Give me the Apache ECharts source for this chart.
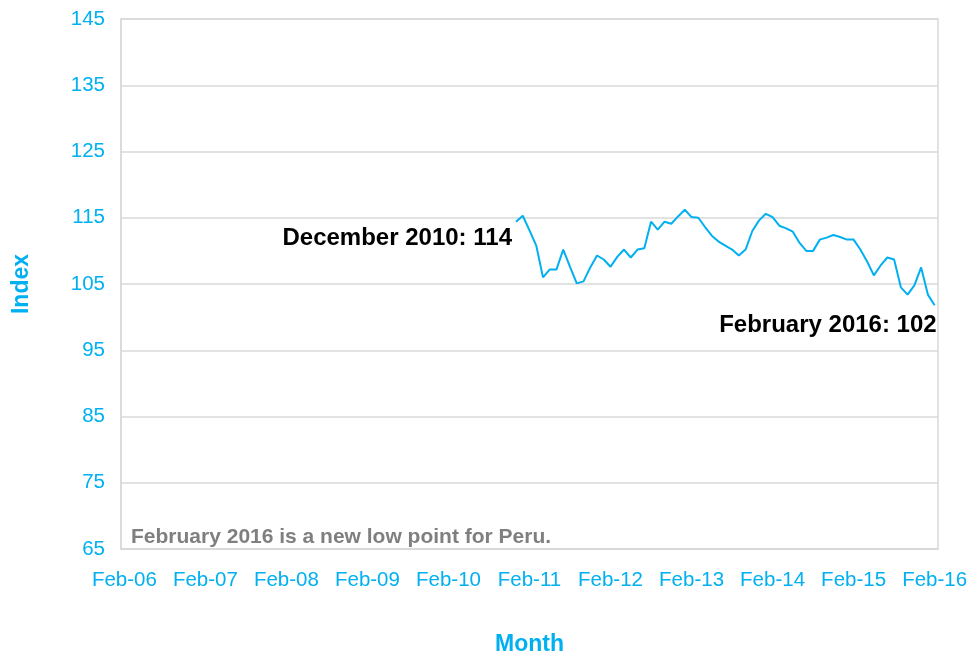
<!DOCTYPE html>
<html>
<head>
<meta charset="utf-8">
<script src="https://cdn.jsdelivr.net/npm/echarts@6/dist/echarts.min.js"></script>
<style>html,body{margin:0;padding:0;background:#fff}#c{width:974px;height:654px}</style>
</head>
<body>
<div id="c"></div>
<script>
var monthNames = ['Jan','Feb','Mar','Apr','May','Jun','Jul','Aug','Sep','Oct','Nov','Dec'];
var firstYear = 2006, firstMonth = 1, monthCount = 121; // Feb-06 .. Feb-16
var tickLabels = ['Feb-06','Feb-07','Feb-08','Feb-09','Feb-10','Feb-11','Feb-12','Feb-13','Feb-14','Feb-15','Feb-16'];
var seriesStart = 'Dec-10';
var indexValues = [
  114.4,
  115.3,113.1,110.8,106.0,107.2,107.2,110.2,107.6,105.1,105.4,107.5,109.3,
  108.7,107.6,109.1,110.2,109.0,110.2,110.4,114.4,113.2,114.4,114.1,115.2,
  116.2,115.1,115.0,113.6,112.3,111.4,110.8,110.2,109.3,110.2,113.0,114.6,
  115.6,115.1,113.8,113.4,112.9,111.2,110.0,110.0,111.7,112.0,112.4,112.1,
  111.7,111.7,110.2,108.4,106.3,107.8,109.0,108.7,104.5,103.4,104.8,107.5,
  103.4,101.8
];
var yTicks = [65,75,85,95,105,115,125,135,145];
var annotations = [
  {at:'Dec-10', value:114.4, text:'December 2010: 114'},
  {at:'Feb-16', value:101.8, text:'February 2016: 102'}
];
var noteText = 'February 2016 is a new low point for Peru.';

var categories = [];
for (var i = 0; i < monthCount; i++) {
  var m = (firstMonth + i) % 12;
  var y = firstYear + Math.floor((firstMonth + i) / 12);
  categories.push(monthNames[m] + '-' + String(y % 100).padStart(2, '0'));
}
var startIdx = categories.indexOf(seriesStart);
var seriesData = categories.map(function (c, i) {
  var k = i - startIdx;
  return (k >= 0 && k < indexValues.length) ? indexValues[k] : null;
});

var blue = '#00B0F0';
var font = '"Liberation Sans", Arial, sans-serif';
var chart = echarts.init(document.getElementById('c'), null, {renderer: 'canvas'});
chart.setOption({
  animation: false,
  grid: {left: 121, right: 36, top: 19, bottom: 105, show: true, borderColor: '#d9d9d9', borderWidth: 1.5,
         containLabel: false, outerBoundsMode: 'none'},
  xAxis: {
    type: 'category',
    data: categories,
    boundaryGap: true,
    name: 'Month',
    nameLocation: 'middle',
    nameGap: 84,
    nameTextStyle: {color: blue, fontSize: 23, fontWeight: 'bold', fontFamily: font},
    axisLine: {show: true, lineStyle: {color: '#d9d9d9', width: 1.5}},
    axisTick: {show: false},
    axisLabel: {
      color: blue, fontSize: 20.5, fontFamily: font, margin: 21,
      interval: function (idx, val) { return tickLabels.indexOf(val) >= 0; }
    },
    splitLine: {show: false}
  },
  yAxis: {
    type: 'value',
    min: yTicks[0], max: yTicks[yTicks.length - 1], interval: 10,
    name: 'Index',
    nameLocation: 'middle',
    nameGap: 88,
    nameRotate: 90,
    nameTextStyle: {color: blue, fontSize: 23, fontWeight: 'bold', fontFamily: font},
    axisLine: {show: true, lineStyle: {color: '#d9d9d9', width: 1.5}},
    axisTick: {show: false},
    axisLabel: {color: blue, fontSize: 20.5, fontFamily: font, margin: 16},
    splitLine: {show: true, lineStyle: {color: '#d9d9d9', width: 1.5}}
  },
  series: [{
    type: 'line',
    data: seriesData,
    showSymbol: false,
    connectNulls: false,
    lineStyle: {color: blue, width: 2},
    itemStyle: {color: blue},
    markPoint: {
      symbol: 'circle', symbolSize: 0,
      data: [
        {coord: [annotations[0].at, annotations[0].value], value: annotations[0].text,
         label: {show: true, position: 'left', distance: 4, offset: [0, 17], formatter: annotations[0].text,
                 color: '#000', fontSize: 24, fontWeight: 'bold', fontFamily: font}},
        {coord: [annotations[1].at, annotations[1].value], value: annotations[1].text,
         label: {show: true, position: 'left', distance: 0, offset: [2, 20], formatter: annotations[1].text,
                 color: '#000', fontSize: 24, fontWeight: 'bold', fontFamily: font}}
      ]
    }
  }],
  graphic: [{
    type: 'text', left: 131, top: 527,
    style: {text: noteText, fill: '#7f7f7f', font: 'bold 21px ' + font}
  }]
});
</script>
</body>
</html>
